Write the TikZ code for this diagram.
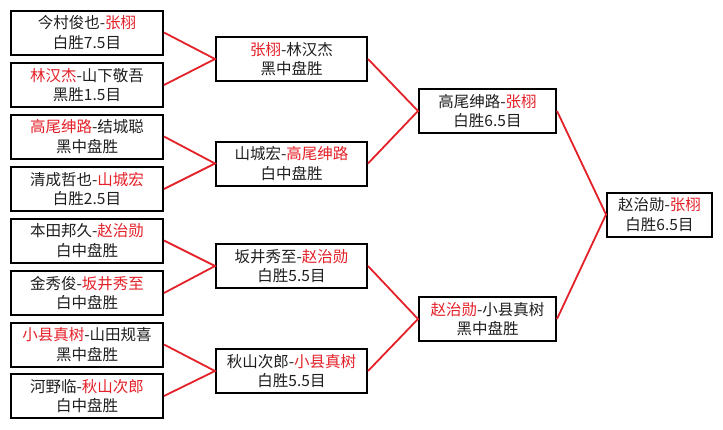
\documentclass[tikz,border=0pt]{standalone}
\usepackage{fontspec}
\setmainfont{Noto Sans CJK SC}
\usepackage{xcolor}
\usetikzlibrary{positioning}
\definecolor{winred}{RGB}{228,32,40}
\definecolor{gametext}{RGB}{30,30,30}
\tikzset{%
	game/.style={
		draw,
		line width=2pt,
		minimum height=44pt,
		inner sep=0pt,
		align=center,
		text=gametext,
		font=\fontsize{15.5}{19.5}\selectfont
	},
	link/.style={
		draw=winred,
		line width=1.8pt
	},
}
\newcommand{\winner}[1]{\textcolor{winred}{#1}}

\begin{document}
\begin{tikzpicture}[x=1pt, y=-1pt]
			
			\useasboundingbox (0,0) rectangle (723,429);
			
			% First round
			\node[game, minimum width=152pt] (r1a) at (87,32.5) {今村俊也-\winner{张栩}\\白胜7.5目};
			\node[game, minimum width=152pt] (r1b) at (87,85) {\winner{林汉杰}-山下敬吾\\黑胜1.5目};
			\node[game, minimum width=152pt] (r1c) at (87,136.5) {\winner{高尾绅路}-结城聪\\黑中盘胜};
			\node[game, minimum width=152pt] (r1d) at (87,189) {清成哲也-\winner{山城宏}\\白胜2.5目};
			\node[game, minimum width=152pt] (r1e) at (87,240.5) {本田邦久-\winner{赵治勋}\\白中盘胜};
			\node[game, minimum width=152pt] (r1f) at (87,293) {金秀俊-\winner{坂井秀至}\\白中盘胜};
			\node[game, minimum width=152pt] (r1g) at (87,344.5) {\winner{小县真树}-山田规喜\\黑中盘胜};
			\node[game, minimum width=152pt] (r1h) at (87,396) {河野临-\winner{秋山次郎}\\白中盘胜};
			
			% Second round
			\node[game, minimum width=151pt] (r2a) at (291.5,59) {\winner{张栩}-林汉杰\\黑中盘胜};
			\node[game, minimum width=151pt] (r2b) at (291.5,163.5) {山城宏-\winner{高尾绅路}\\白中盘胜};
			\node[game, minimum width=151pt] (r2c) at (291.5,266) {坂井秀至-\winner{赵治勋}\\白胜5.5目};
			\node[game, minimum width=151pt] (r2d) at (291.5,371) {秋山次郎-\winner{小县真树}\\白胜5.5目};
			
			% Semi finals
			\node[game, minimum width=137pt] (r3a) at (487.5,111) {高尾绅路-\winner{张栩}\\白胜6.5目};
			\node[game, minimum width=137pt] (r3b) at (487.5,319) {\winner{赵治勋}-小县真树\\黑中盘胜};
			
			% Final
			\node[game, minimum width=105pt] (fin) at (659.5,214.5) {赵治勋-\winner{张栩}\\白胜6.5目};
			
			% Links
			\draw[link] (r1a.east) -- (r2a.west) -- (r1b.east);
			\draw[link] (r1c.east) -- (r2b.west) -- (r1d.east);
			\draw[link] (r1e.east) -- (r2c.west) -- (r1f.east);
			\draw[link] (r1g.east) -- (r2d.west) -- (r1h.east);
			\draw[link] (r2a.east) -- (r3a.west) -- (r2b.east);
			\draw[link] (r2c.east) -- (r3b.west) -- (r2d.east);
			\draw[link] (r3a.east) -- (fin.west) -- (r3b.east);
			
		\end{tikzpicture}
\end{document}
